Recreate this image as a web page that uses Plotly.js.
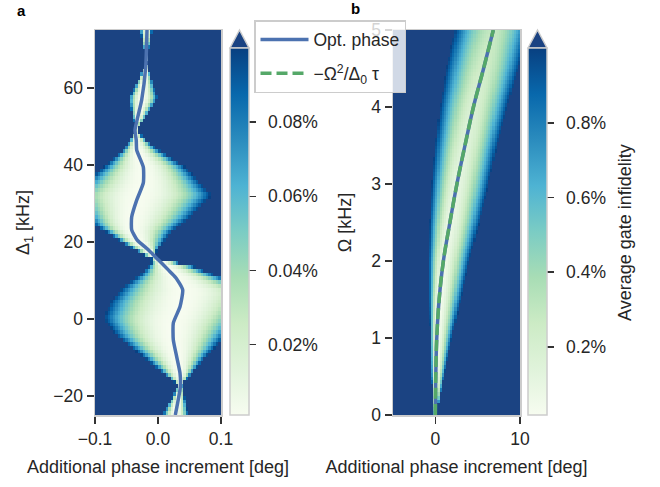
<!DOCTYPE html>
<html><head><meta charset="utf-8">
<script src="https://cdn.plot.ly/plotly-3.0.1.min.js"></script>
<style>html,body{margin:0;padding:0;background:#fff}</style>
</head><body><div id="chart" style="width:660px;height:487px"></div>
<script>
// ---------- Panel a ----------
// optimal phase line: detuning Δ1 [kHz] -> phase [deg]
const optA_delta = [-25, -17.7, -14.1, -9.9, -5.5, -1.1, 3.1, 7.5, 10.6, 12.7, 15.3, 17.9, 20.5, 23.1, 26.4, 30.8, 35.3, 39.4, 43.8, 46.4, 49.0, 56.8, 65.4, 75];
const optA_phase = [0.0275, 0.0355, 0.0349, 0.0297, 0.0243, 0.0243, 0.0349, 0.0392, 0.0286, 0.0163, 0.0005, -0.0154, -0.0333, -0.0418, -0.0418, -0.0338, -0.0233, -0.0233, -0.0338, -0.0345, -0.0365, -0.0259, -0.0195, -0.0175];
// left / right edges of the low-infidelity region (where it reaches 0.1 %)
const edgeA_left_delta = [-25, -17.2, -16.4, -12.8, -8.6, -4.2, 0.1, 4.4, 8.0, 11.4, 13.96, 15.3, 16.0, 18.6, 22.3, 24.1, 32.1, 39.4, 43.8, 48.8, 57.1, 66.4, 75];
const edgeA_left = [0.0068, 0.0327, 0.0248, -0.0016, -0.0333, -0.0678, -0.0863, -0.0757, -0.0571, -0.0281, -0.0122, -0.0075, -0.017, -0.044, -0.0805, -0.0995, -0.139, -0.0868, -0.0551, -0.0344, -0.0467, -0.0178, -0.0281];
const edgeA_right_delta = [-25, -17.2, -14.6, -10.2, -6.0, 6.95, 10.8, 14.0, 15.3, 16.0, 17.9, 22.3, 26.4, 32.1, 39.4, 43.8, 48.8, 57.1, 66.4, 75];
const edgeA_right = [0.0481, 0.0381, 0.0513, 0.0751, 0.0989, 0.170, 0.0989, 0.0513, 0.0037, -0.0043, -0.0011, 0.0195, 0.0513, 0.0857, 0.0433, 0.0005, -0.0344, 0.0, -0.0178, -0.009];
const minA_delta = [-25, 75];
const minA = [0.001, 0.001];                       // lowest infidelity per row [%]
const infA_min = 0.001, infA_max = 0.1;           // colour range [%]
const cbA_ticks = [0.02, 0.04, 0.06, 0.08];
const cbA_labels = ['0.02%', '0.04%', '0.06%', '0.08%'];

// ---------- Panel b ----------
const omegaB = [0, 0.5, 1, 1.5, 2, 2.5, 3, 3.5, 4, 4.5, 5];
const optB_phase = [0, 0.05, 0.17, 0.45, 0.95, 1.72, 2.55, 3.5, 4.5, 5.7, 6.85];
const approxB_phase = [0, 0.05, 0.17, 0.45, 0.95, 1.72, 2.55, 3.5, 4.5, 5.7, 6.85];
const edgeB_left = [-0.15, -0.45, -0.6, -0.7, -0.75, -0.65, -0.4, 0.0, 0.55, 1.3, 2.3];
const edgeB_right = [0.15, 1.0, 1.95, 3.0, 4.0, 5.2, 6.3, 7.3, 8.5, 9.8, 11.0];
const minB = [0.02, 0.02, 0.03, 0.04, 0.06, 0.08, 0.11, 0.14, 0.18, 0.23, 0.29];  // lowest infidelity per row [%]
const infB_min = 0.018, infB_max = 1.0;
const cbB_ticks = [0.2, 0.4, 0.6, 0.8];
const cbB_labels = ['0.2%', '0.4%', '0.6%', '0.8%'];

const legendNames = ['Opt. phase', '−Ω<sup>2</sup>/Δ<sub>0</sub> τ'];

// ---------- helpers ----------
function interp(xs, ys, x) {
  if (x <= xs[0]) return ys[0];
  const n = xs.length;
  if (x >= xs[n - 1]) return ys[n - 1];
  for (let i = 1; i < n; i++) {
    if (x <= xs[i]) { const t = (x - xs[i - 1]) / (xs[i] - xs[i - 1]); return ys[i - 1] + t * (ys[i] - ys[i - 1]); }
  }
}
function grid(a, b, n) { const s = (b - a) / n; return Array.from({length: n}, (_, i) => a + s * (i + 0.5)); }
function field(xc, yc, cY, cX, lY, lX, rY, rX, z0Y, z0, zmax, p) {
  return yc.map(y => {
    const L = interp(lY, lX, y), R = interp(rY, rX, y);
    const c = Math.min(Math.max(interp(cY, cX, y), L), R);
    const zlo = interp(z0Y, z0, y);
    return xc.map(x => {
      const w = x < c ? c - L : R - c;
      if (w <= 0) return zmax;
      const d = Math.abs(x - c) / w;
      if (d >= 1) return zmax;
      return Math.min(zmax, zlo + (zmax - zlo) * Math.pow(d, p));
    });
  });
}

const gnbu = ['#f7fcf0','#e0f3db','#ccebc5','#a8ddb5','#7bccc4','#4eb3d3','#2b8cbe','#0868ac','#084081'];
const overColor = '#1b4382';
const cscale = gnbu.map((c, i) => [i / 8 * 0.999, c]).concat([[1, overColor]]);

const W = 660, H = 487;
const px = v => v / W, py = v => 1 - v / H;
const FONT = 'Liberation Sans, Arial, sans-serif';
const TXT = '#262626';
const GAP = '\u00a0\u2009';

const xA = grid(-0.1, 0.1, 50), yA = grid(-25, 75, 100);
const zA = field(xA, yA, optA_delta, optA_phase, edgeA_left_delta, edgeA_left, edgeA_right_delta, edgeA_right,
                 minA_delta, minA, infA_max, 2.2);
const xB = grid(-5, 10, 60), yB = grid(0, 5, 100);
const zB = field(xB, yB, omegaB, optB_phase, omegaB, edgeB_left, omegaB, edgeB_right, omegaB, minB, infB_max, 1.8);

const cbCommon = {
  thickness: 19, thicknessmode: 'pixels', len: 367, lenmode: 'pixels',
  xanchor: 'left', yanchor: 'bottom', y: py(415), xpad: 0, ypad: 0,
  outlinecolor: '#cccccc', outlinewidth: 1.5,
  ticks: 'outside', ticklen: 7, tickwidth: 1.5, tickcolor: '#333',
  tickfont: {family: FONT, size: 17.5, color: TXT}
};

const traces = [
  {type: 'heatmap', x: xA, y: yA, z: zA, xaxis: 'x', yaxis: 'y', zmin: infA_min, zmax: infA_max,
   colorscale: cscale, showlegend: false, hoverinfo: 'skip',
   colorbar: Object.assign({}, cbCommon, {x: px(230), tickvals: cbA_ticks, ticktext: cbA_labels.map(t => GAP + t)})},
  {type: 'scatter', mode: 'lines', x: optA_phase, y: optA_delta, xaxis: 'x', yaxis: 'y',
   line: {color: '#4c72b0', width: 3.5, shape: 'spline', smoothing: 0.5}, showlegend: false},
  {type: 'heatmap', x: xB, y: yB, z: zB, xaxis: 'x2', yaxis: 'y2', zmin: infB_min, zmax: infB_max,
   colorscale: cscale, showlegend: false, hoverinfo: 'skip',
   colorbar: Object.assign({}, cbCommon, {x: px(528), tickvals: cbB_ticks, ticktext: cbB_labels.map(t => GAP + t)})},
  {type: 'scatter', mode: 'lines', x: optB_phase, y: omegaB, xaxis: 'x2', yaxis: 'y2', name: legendNames[0],
   legendgroup: 'g1', line: {color: '#4c72b0', width: 3.5, shape: 'spline'}},
  {type: 'scatter', mode: 'lines', x: approxB_phase, y: omegaB, xaxis: 'x2', yaxis: 'y2', name: legendNames[1],
   legendgroup: 'g2', line: {color: '#55a868', width: 3.5, dash: '11px,5px', shape: 'spline'}}
];

const axCommon = {
  showline: true, mirror: true, linecolor: '#cccccc', linewidth: 1.5,
  ticks: 'outside', ticklen: 7, tickwidth: 1.5, tickcolor: '#333',
  showgrid: false, zeroline: false, tickfont: {family: FONT, size: 17.5, color: TXT}
};
const titleFont = {family: FONT, size: 18, color: TXT};

const layout = {
  width: W, height: H, margin: {l: 0, r: 0, t: 0, b: 0},
  paper_bgcolor: '#fff', plot_bgcolor: '#fff',
  font: {family: FONT, color: TXT},
  xaxis: Object.assign({}, axCommon, {domain: [px(95), px(221)], anchor: 'y', range: [-0.1, 0.1],
    tickvals: [-0.1, 0, 0.1], tickformat: '.1f',
    title: {text: 'Additional phase increment [deg]', font: titleFont, standoff: 13}}),
  yaxis: Object.assign({}, axCommon, {domain: [py(415), py(30)], anchor: 'x', range: [-25, 75],
    tickvals: [-20, 0, 20, 40, 60],
    title: {text: 'Δ<sub>1</sub> [kHz]', font: titleFont, standoff: 19}}),
  xaxis2: Object.assign({}, axCommon, {domain: [px(393), px(520)], anchor: 'y2', range: [-5, 10],
    tickvals: [0, 10],
    title: {text: 'Additional phase increment [deg]', font: titleFont, standoff: 13}}),
  yaxis2: Object.assign({}, axCommon, {domain: [py(415), py(30)], anchor: 'x2', range: [0, 5],
    tickvals: [0, 1, 2, 3, 4, 5],
    title: {text: 'Ω [kHz]', font: titleFont, standoff: 15}}),
  showlegend: true,
  legend: {x: px(254), y: py(20), xanchor: 'left', yanchor: 'top', itemwidth: 48,
    bgcolor: 'rgba(255,255,255,0.8)', bordercolor: '#cccccc', borderwidth: 1.5,
    font: {family: FONT, size: 17.5, color: TXT}, tracegroupgap: 8},
  annotations: [
    {text: '<b>a</b>', xref: 'paper', yref: 'paper', x: px(15), y: py(11), xanchor: 'left', yanchor: 'middle',
     showarrow: false, font: {family: FONT, size: 15, color: '#000'}},
    {text: '<b>b</b>', xref: 'paper', yref: 'paper', x: px(349), y: py(8), xanchor: 'left', yanchor: 'middle',
     showarrow: false, font: {family: FONT, size: 15, color: '#000'}},
    {text: 'Average gate infidelity', xref: 'paper', yref: 'paper', x: px(625), y: py(233), xanchor: 'center', yanchor: 'middle',
     textangle: -90, showarrow: false, font: titleFont}
  ],
  shapes: [230, 528].map(x0 => ({
    type: 'path', xref: 'paper', yref: 'paper',
    path: `M ${px(x0)} ${py(48)} L ${px(x0 + 9.5)} ${py(30)} L ${px(x0 + 19)} ${py(48)} Z`,
    fillcolor: overColor, line: {color: '#cccccc', width: 1.5}
  }))
};

Plotly.newPlot('chart', traces, layout, {displayModeBar: false, staticPlot: true});
</script></body></html>
